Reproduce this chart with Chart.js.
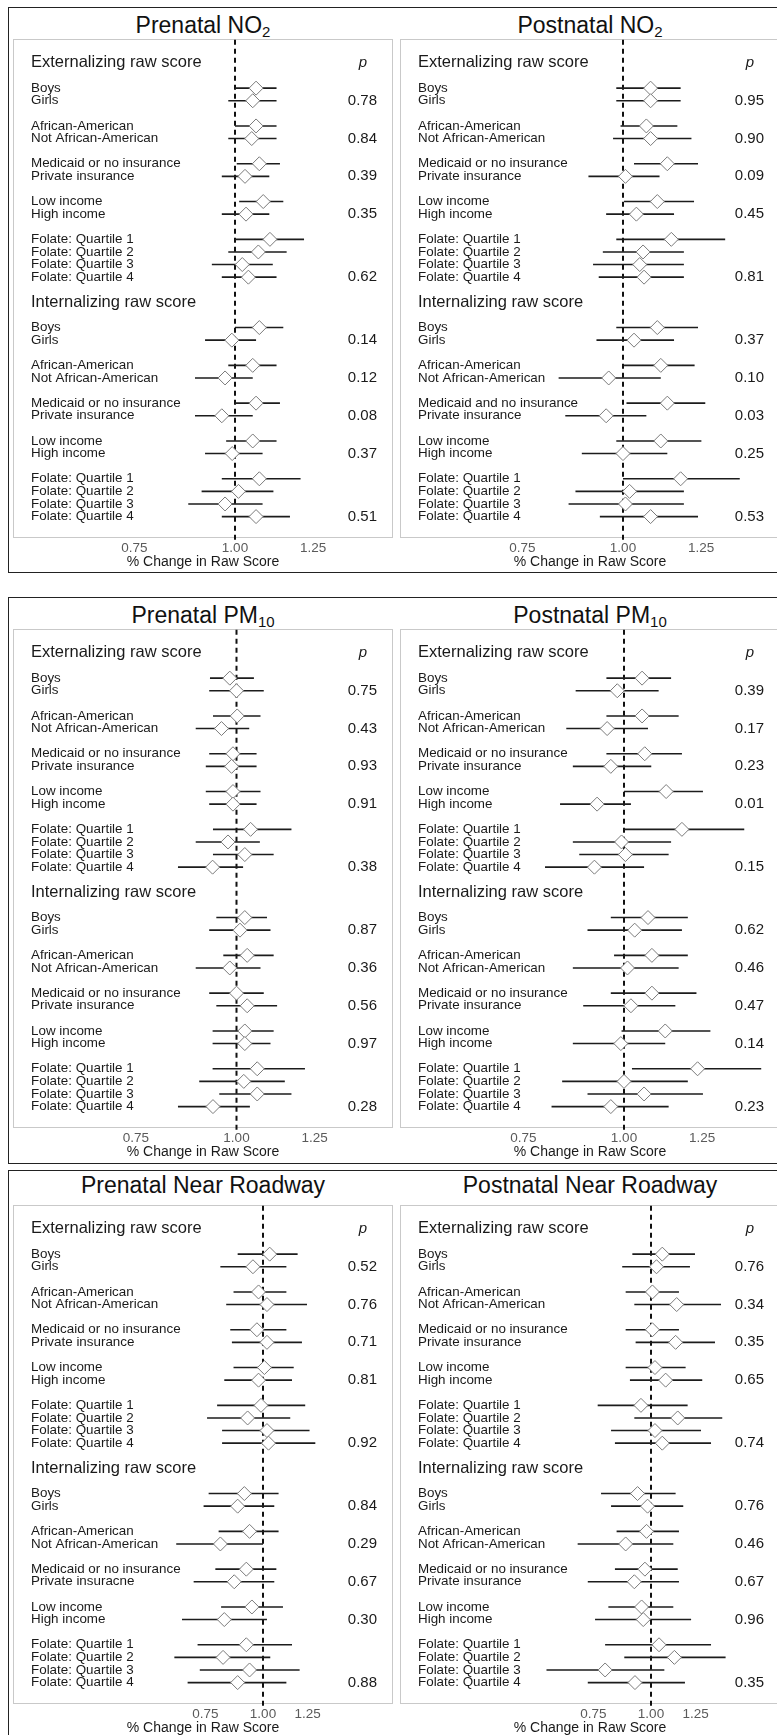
<!DOCTYPE html>
<html style="overflow:hidden">
<head>
<meta charset="utf-8">
<script src="https://cdn.jsdelivr.net/npm/chart.js"></script>
<style>
  html, body { margin: 0; padding: 0; background: #fff; overflow: hidden; }
  #page { position: relative; width: 777px; height: 1735px; overflow: hidden; font-family: "Liberation Sans", Arial, sans-serif; }
  .frame { position: absolute; left: 8px; width: 790px; border: 1.5px solid #222; box-sizing: border-box; }
  .ttl { position: absolute; width: 380px; height: 30px; line-height: 30px; text-align: center; font-size: 23px; color: #111; white-space: nowrap; }
  .ttl sub { font-size: 15px; vertical-align: -4px; line-height: 0; }
  canvas { position: absolute; }
</style>
</head>
<body>
<div id="page">
<div class="frame" style="top:7px;height:566px"></div>
<div class="frame" style="top:597px;height:567px"></div>
<div class="frame" style="top:1170px;height:600px"></div>

<div class="ttl" style="left:13px;top:10px">Prenatal NO<sub>2</sub></div>
<div class="ttl" style="left:400px;top:10px">Postnatal NO<sub>2</sub></div>
<div class="ttl" style="left:13px;top:600px">Prenatal PM<sub>10</sub></div>
<div class="ttl" style="left:400px;top:600px">Postnatal PM<sub>10</sub></div>
<div class="ttl" style="left:13px;top:1170px">Prenatal Near Roadway</div>
<div class="ttl" style="left:400px;top:1170px">Postnatal Near Roadway</div>

<canvas id="c1" width="380" height="532" style="left:13px;top:39px"></canvas>
<canvas id="c2" width="380" height="532" style="left:400px;top:39px"></canvas>
<canvas id="c3" width="380" height="532" style="left:13px;top:629px"></canvas>
<canvas id="c4" width="380" height="532" style="left:400px;top:629px"></canvas>
<canvas id="c5" width="380" height="532" style="left:13px;top:1205px"></canvas>
<canvas id="c6" width="380" height="532" style="left:400px;top:1205px"></canvas>
</div>

<script>
// Outcomes and subgroup labels
const outcomes = ["Externalizing raw score", "Internalizing raw score"];
const groupLabels = ["Boys", "Girls", "African-American", "Not African-American", "Medicaid or no insurance", "Private insurance", "Low income", "High income", "Folate: Quartile 1", "Folate: Quartile 2", "Folate: Quartile 3", "Folate: Quartile 4"];
const groupSizes = [2, 2, 2, 2, 4];
const xTicks = [0.75, 1.0, 1.25];

// label typos / wording as printed in the figure
const postnatalNO2IntLabels = groupLabels.map((l, i) => (i === 4 ? "Medicaid and no insurance" : l));
const prenatalRoadIntLabels = groupLabels.map((l, i) => (i === 5 ? "Private insuracne" : l));

// Estimates: 12 externalizing rows then 12 internalizing rows
const prenatalNO2Est = [1.062, 1.052, 1.062, 1.049, 1.072, 1.029, 1.084, 1.032, 1.105, 1.069, 1.021, 1.039, 1.072, 0.991, 1.052, 0.972, 1.062, 0.963, 1.052, 0.992, 1.072, 1.010, 0.972, 1.062];
const prenatalNO2Lo = [1.000, 0.981, 1.000, 0.981, 1.005, 0.963, 1.012, 0.963, 1.000, 0.981, 0.936, 0.963, 1.000, 0.918, 0.981, 0.892, 1.000, 0.892, 0.975, 0.918, 0.963, 0.909, 0.875, 0.963];
const prenatalNO2Hi = [1.126, 1.126, 1.126, 1.126, 1.137, 1.103, 1.148, 1.103, 1.218, 1.159, 1.114, 1.126, 1.148, 1.062, 1.126, 1.052, 1.137, 1.052, 1.126, 1.082, 1.206, 1.116, 1.082, 1.170];
const prenatalNO2P = [0.78, 0.84, 0.39, 0.35, 0.62, 0.14, 0.12, 0.08, 0.37, 0.51];

const postnatalNO2Est = [1.082, 1.082, 1.069, 1.082, 1.135, 1.007, 1.103, 1.039, 1.148, 1.059, 1.049, 1.062, 1.103, 1.032, 1.114, 0.960, 1.135, 0.953, 1.114, 1.000, 1.179, 1.019, 1.007, 1.082];
const postnatalNO2Lo = [0.981, 0.981, 0.993, 0.972, 1.032, 0.906, 1.003, 0.953, 0.981, 0.944, 0.918, 0.933, 0.981, 0.927, 1.003, 0.832, 1.010, 0.848, 0.981, 0.889, 1.000, 0.873, 0.856, 0.936];
const postnatalNO2Hi = [1.179, 1.179, 1.168, 1.216, 1.239, 1.110, 1.225, 1.157, 1.339, 1.190, 1.190, 1.190, 1.239, 1.157, 1.227, 1.114, 1.265, 1.069, 1.251, 1.135, 1.396, 1.190, 1.190, 1.239];
const postnatalNO2P = [0.95, 0.90, 0.09, 0.45, 0.81, 0.37, 0.10, 0.03, 0.25, 0.53];

const prenatalPM10Est = [0.981, 1.000, 1.002, 0.958, 0.990, 0.986, 0.990, 0.990, 1.041, 0.976, 1.024, 0.934, 1.024, 1.010, 1.031, 0.981, 1.000, 1.031, 1.024, 1.024, 1.061, 1.021, 1.061, 0.935];
const prenatalPM10Lo = [0.927, 0.925, 0.935, 0.890, 0.925, 0.916, 0.916, 0.925, 0.935, 0.890, 0.935, 0.846, 0.944, 0.925, 0.963, 0.890, 0.925, 0.944, 0.934, 0.934, 0.934, 0.899, 0.952, 0.846];
const prenatalPM10Hi = [1.051, 1.081, 1.071, 1.037, 1.059, 1.059, 1.071, 1.059, 1.170, 1.069, 1.112, 1.019, 1.091, 1.102, 1.112, 1.071, 1.081, 1.123, 1.112, 1.102, 1.216, 1.148, 1.170, 1.039];
const prenatalPM10P = [0.75, 0.43, 0.93, 0.91, 0.38, 0.87, 0.36, 0.56, 0.97, 0.28];

const postnatalPM10Est = [1.053, 0.981, 1.053, 0.953, 1.061, 0.963, 1.128, 0.926, 1.180, 0.993, 1.004, 0.919, 1.071, 1.031, 1.083, 1.010, 1.083, 1.020, 1.125, 0.991, 1.234, 1.000, 1.059, 0.963];
const postnatalPM10Lo = [0.951, 0.871, 0.951, 0.848, 0.951, 0.864, 1.000, 0.833, 1.000, 0.864, 0.880, 0.798, 0.963, 0.901, 0.972, 0.864, 0.963, 0.890, 0.993, 0.864, 1.023, 0.838, 0.901, 0.813];
const postnatalPM10Hi = [1.144, 1.104, 1.169, 1.071, 1.180, 1.081, 1.253, 1.020, 1.410, 1.144, 1.136, 1.059, 1.200, 1.180, 1.200, 1.169, 1.230, 1.158, 1.280, 1.125, 1.480, 1.200, 1.253, 1.136];
const postnatalPM10P = [0.39, 0.17, 0.23, 0.01, 0.15, 0.62, 0.46, 0.47, 0.14, 0.23];

const prenatalRoadEst = [1.034, 0.951, 0.978, 1.020, 0.970, 1.020, 1.007, 0.978, 0.990, 0.926, 1.020, 1.028, 0.911, 0.881, 0.935, 0.808, 0.920, 0.866, 0.946, 0.824, 0.920, 0.819, 0.935, 0.881];
const prenatalRoadLo = [0.881, 0.808, 0.863, 0.832, 0.849, 0.856, 0.863, 0.824, 0.795, 0.756, 0.815, 0.815, 0.762, 0.743, 0.801, 0.648, 0.788, 0.707, 0.811, 0.667, 0.721, 0.642, 0.729, 0.686];
const prenatalRoadHi = [1.189, 1.124, 1.124, 1.246, 1.124, 1.215, 1.166, 1.156, 1.235, 1.146, 1.262, 1.299, 1.081, 1.058, 1.081, 1.000, 1.069, 1.058, 1.105, 1.020, 1.156, 1.037, 1.201, 1.124];
const prenatalRoadP = [0.52, 0.76, 0.71, 0.81, 0.92, 0.84, 0.29, 0.67, 0.30, 0.88];

const postnatalRoadEst = [1.058, 1.028, 1.007, 1.137, 1.007, 1.131, 1.020, 1.076, 0.951, 1.143, 1.020, 1.058, 0.935, 0.983, 0.978, 0.881, 0.970, 0.920, 0.954, 0.962, 1.041, 1.124, 0.795, 0.923];
const postnatalRoadLo = [0.911, 0.866, 0.881, 0.920, 0.881, 0.926, 0.881, 0.900, 0.766, 0.920, 0.819, 0.835, 0.779, 0.819, 0.842, 0.693, 0.835, 0.729, 0.808, 0.756, 0.795, 0.875, 0.593, 0.729];
const postnatalRoadHi = [1.246, 1.215, 1.150, 1.419, 1.150, 1.377, 1.189, 1.292, 1.201, 1.428, 1.284, 1.350, 1.131, 1.175, 1.150, 1.118, 1.143, 1.150, 1.118, 1.222, 1.350, 1.452, 1.069, 1.185];
const postnatalRoadP = [0.76, 0.34, 0.35, 0.65, 0.74, 0.76, 0.46, 0.67, 0.96, 0.35];

const FONT = "'Liberation Sans', Arial, sans-serif";
const BOX_W = 380;
const AXIS_H = 33;

// row positions: header, then groups separated by one blank line
function rowLayout() {
	const pos = [];
	const headers = [];
	const pRows = [];
	let y = 0;
	for (let o = 0; o < outcomes.length; o++) {
		headers.push(y);
		y += 2;
		groupSizes.forEach((n) => {
			for (let j = 0; j < n; j++) pos.push(y++);
			pRows.push(y - 1);
			y++;
		});
	}
	return { pos, headers, pRows };
}
const rows = rowLayout();

// log x range so that 1.00 sits at "center" px inside the box, "k" px per log unit
function xRange(center, k) {
	return { min: Math.exp(-center / k), max: Math.exp((BOX_W - center) / k) };
}

function makeTextPlugin(panel) {
	return {
		id: "forestText",
		beforeDatasetsDraw(chart) {
			const { ctx, chartArea: a } = chart;
			ctx.save();
			ctx.strokeStyle = "#c9c9c9";
			ctx.lineWidth = 1;
			ctx.strokeRect(a.left + 0.5, a.top + 0.5, a.width - 1, a.height - 1);
			ctx.restore();
		},
		afterDatasetsDraw(chart) {
			const { ctx, chartArea: a } = chart;
			const ys = chart.scales.y;
			ctx.save();
			ctx.textBaseline = "middle";
			ctx.fillStyle = "#1a1a1a";
			// outcome headers
			ctx.textAlign = "left";
			ctx.font = "16.5px " + FONT;
			rows.headers.forEach((h, o) => ctx.fillText(outcomes[o], a.left + 18, ys.getPixelForValue(h)));
			// subgroup labels
			ctx.font = "13.4px " + FONT;
			panel.labels.forEach((l, i) => ctx.fillText(l, a.left + 18, ys.getPixelForValue(rows.pos[i])));
			// p column
			ctx.textAlign = "center";
			ctx.font = "italic 15px " + FONT;
			ctx.fillText("p", a.right - 30, ys.getPixelForValue(rows.headers[0]));
			ctx.textAlign = "right";
			ctx.font = "15px " + FONT;
			panel.p.forEach((p, i) => ctx.fillText(p.toFixed(2), a.right - 16, ys.getPixelForValue(rows.pRows[i])));
			ctx.restore();
		},
	};
}

function createForest(id, panel) {
	const ciData = [];
	panel.est.forEach((e, i) => {
		ciData.push({ x: panel.lo[i], y: rows.pos[i] });
		ciData.push({ x: panel.hi[i], y: rows.pos[i] });
		ciData.push({ x: e, y: null });
	});
	const estData = panel.est.map((e, i) => ({ x: e, y: rows.pos[i] }));
	const range = xRange(panel.center, panel.k);

	return new Chart(document.getElementById(id), {
		type: "line",
		data: {
			datasets: [
				{
					type: "scatter",
					data: estData,
					pointStyle: "rectRot",
					pointRadius: 7,
					pointBorderWidth: 1,
					pointBorderColor: "#7a7a7a",
					pointBackgroundColor: "#ffffff",
					showLine: false,
				},
				{
					data: ciData,
					borderColor: "#1c1c1c",
					borderWidth: 1.6,
					pointRadius: 0,
					spanGaps: false,
				},
				{
					data: [{ x: 1, y: -1.85 }, { x: 1, y: 38.1 }],
					borderColor: "#111",
					borderWidth: 2,
					borderDash: [5, 4],
					pointRadius: 0,
					clip: false,
				},
			],
		},
		options: {
			responsive: false,
			animation: false,
			events: [],
			layout: { padding: 0, autoPadding: false },
			plugins: { legend: { display: false }, tooltip: { enabled: false } },
			scales: {
				x: {
					type: "logarithmic",
					min: range.min,
					max: range.max,
					bounds: "data",
					grid: { display: false, drawTicks: false },
					border: { display: false },
					afterBuildTicks: (scale) => {
						scale.ticks = xTicks.map((v) => ({ value: v }));
					},
					afterFit: (scale) => {
						scale.height = AXIS_H;
					},
					ticks: {
						autoSkip: false,
						maxRotation: 0,
						padding: 2,
						color: "#5a5a5a",
						font: { family: FONT, size: 13.5 },
						callback: (v) => Number(v).toFixed(2),
					},
					title: {
						display: true,
						text: "% Change in Raw Score",
						color: "#1a1a1a",
						font: { family: FONT, size: 14 },
						padding: { top: 0, bottom: 0 },
					},
				},
				y: { type: "linear", reverse: true, min: -1.9, max: 37.7, display: false },
			},
		},
		plugins: [makeTextPlugin(panel)],
	});
}

const allLabels = (intLabels) => groupLabels.concat(intLabels || groupLabels);

createForest("c1", { labels: allLabels(), est: prenatalNO2Est, lo: prenatalNO2Lo, hi: prenatalNO2Hi, p: prenatalNO2P, center: 222, k: 350 });
createForest("c2", { labels: allLabels(postnatalNO2IntLabels), est: postnatalNO2Est, lo: postnatalNO2Lo, hi: postnatalNO2Hi, p: postnatalNO2P, center: 223, k: 350 });
createForest("c3", { labels: allLabels(), est: prenatalPM10Est, lo: prenatalPM10Lo, hi: prenatalPM10Hi, p: prenatalPM10P, center: 223.5, k: 350 });
createForest("c4", { labels: allLabels(), est: postnatalPM10Est, lo: postnatalPM10Lo, hi: postnatalPM10Hi, p: postnatalPM10P, center: 224, k: 350 });
createForest("c5", { labels: allLabels(prenatalRoadIntLabels), est: prenatalRoadEst, lo: prenatalRoadLo, hi: prenatalRoadHi, p: prenatalRoadP, center: 250, k: 200 });
createForest("c6", { labels: allLabels(), est: postnatalRoadEst, lo: postnatalRoadLo, hi: postnatalRoadHi, p: postnatalRoadP, center: 251, k: 200 });
</script>
</body>
</html>
